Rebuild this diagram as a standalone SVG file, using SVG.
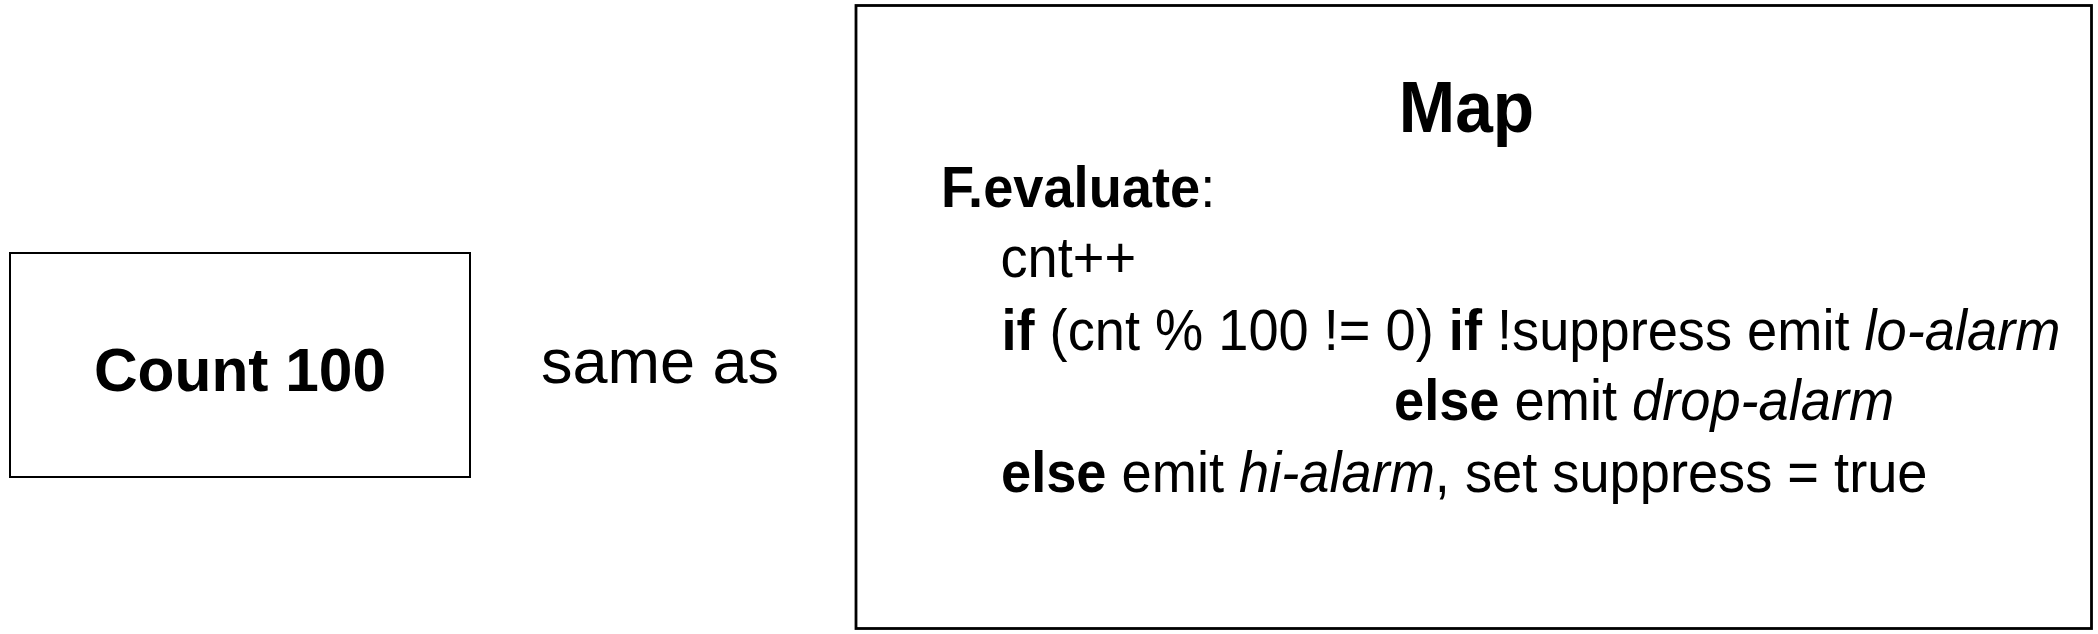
<svg xmlns="http://www.w3.org/2000/svg" width="2098" height="634" viewBox="0 0 2098 634">
<style>
  .box { fill: #ffffff; stroke: #000000; }
  .t { font-family: "Liberation Sans", Arial, sans-serif; fill: #000000; }
  .b { font-weight: bold; }
  .i { font-style: italic; }
</style>
<rect x="0" y="0" width="2098" height="634" fill="#ffffff"/>
<g id="connectors"></g>
<g id="count100">
  <rect class="box" x="10" y="253" width="460" height="224" stroke-width="2"/>
  <text class="t b" font-size="62" text-anchor="middle" transform="translate(240 391) scale(0.975 1)">Count 100</text>
</g>
<g id="same-as">
  <text class="t" x="541" y="383" font-size="63">same as</text>
</g>
<g id="map">
  <rect class="box" x="856" y="5.5" width="1235.5" height="623" stroke-width="2.8"/>
  <text class="t b" font-size="72" text-anchor="middle" transform="translate(1466.5 131.7) scale(0.94 1)">Map</text>
  <text class="t" font-size="58" transform="translate(941 206.7) scale(0.935 1)"><tspan class="b">F.evaluate</tspan>:</text>
  <text class="t" font-size="58" transform="translate(1000.5 277) scale(0.935 1)">cnt++</text>
  <text class="t" font-size="58" transform="translate(1001.4 350) scale(0.935 1)"><tspan class="b">if</tspan> (cnt % 100 != 0) <tspan class="b">if</tspan> !suppress emit <tspan class="i">lo-alarm</tspan></text>
  <text class="t" font-size="58" transform="translate(1394 420) scale(0.935 1)"><tspan class="b">else</tspan> emit <tspan class="i">drop-alarm</tspan></text>
  <text class="t" font-size="58" transform="translate(1001 491.7) scale(0.935 1)"><tspan class="b">else</tspan> emit <tspan class="i">hi-alarm</tspan>, set suppress = true</text>
</g>
</svg>
